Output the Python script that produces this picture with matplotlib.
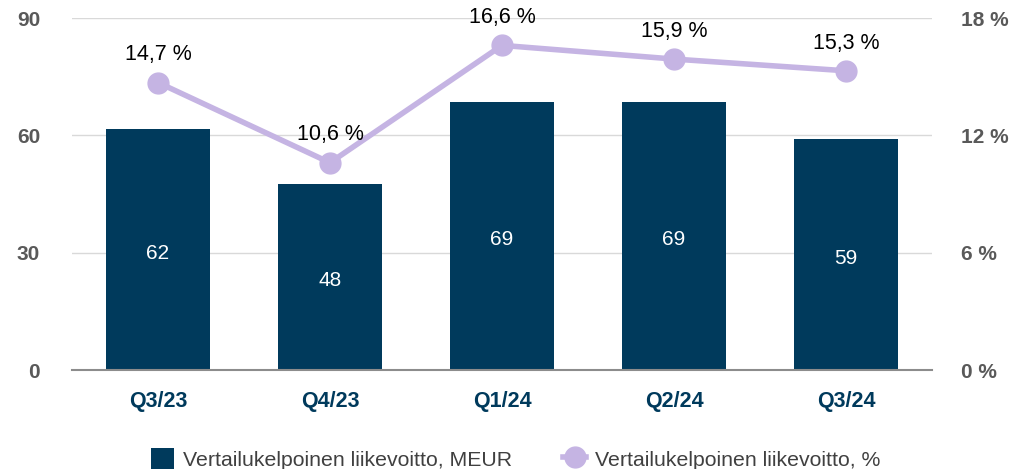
import numpy as np
import matplotlib.pyplot as plt

plt.rcParams['font.family'] = ['Liberation Sans', 'DejaVu Sans']

quarters = ['Q3/23', 'Q4/23', 'Q1/24', 'Q2/24', 'Q3/24']
profit_meur = [61.6, 47.6, 68.6, 68.5, 59.1]
profit_labels = ['62', '48', '69', '69', '59']
margin_pct = [14.7, 10.6, 16.6, 15.9, 15.3]
margin_labels = ['14,7 %', '10,6 %', '16,6 %', '15,9 %', '15,3 %']

bar_color = '#003a5c'
line_color = '#c5b4e3'
tick_grey = '#595959'

fig = plt.figure(figsize=(10.31, 4.69), dpi=100)
ax = fig.add_axes([72 / 1031, 1 - 370 / 469, 860 / 1031, 352 / 469])
ax2 = ax.twinx()

x = np.arange(len(quarters))
bars = ax.bar(x, profit_meur, width=0.6, color=bar_color, zorder=2,
              label='Vertailukelpoinen liikevoitto, MEUR')
for xi, v, lab in zip(x, profit_meur, profit_labels):
    ax.text(xi, v / 2 - 1.0, lab, ha='center', va='center', color='white', fontsize=15)

ax.set_xlim(-0.5, len(quarters) - 0.5)
ax.set_ylim(0, 90)
ax.set_yticks([0, 30, 60, 90])
ax.yaxis.grid(True, color='#d9d9d9', linewidth=1, zorder=0)
ax.set_axisbelow(True)
ax.set_xticks(x)
ax.set_xticklabels(quarters, fontsize=15.5, fontweight='bold', color=bar_color)
for lab in ax.get_yticklabels():
    lab.set_fontweight('bold')
    lab.set_color(tick_grey)
    lab.set_fontsize(15)
ax.tick_params(axis='both', length=0)
ax.tick_params(axis='x', pad=15)
ax.tick_params(axis='y', pad=23)
for s in ['top', 'left', 'right']:
    ax.spines[s].set_visible(False)
ax.spines['bottom'].set_color('#8c8c8c')
ax.spines['bottom'].set_linewidth(1.5)

line, = ax2.plot(x, margin_pct, color=line_color, linewidth=4, marker='o',
                 markersize=15, zorder=3, label='Vertailukelpoinen liikevoitto, %')
for xi, v, lab in zip(x, margin_pct, margin_labels):
    ax2.annotate(lab, (xi, v), xytext=(0, 16), textcoords='offset points',
                 ha='center', va='baseline', fontsize=15.5, color='black')
ax2.set_ylim(0, 18)
ax2.set_yticks([0, 6, 12, 18])
ax2.set_yticklabels(['0 %', '6 %', '12 %', '18 %'], fontsize=15,
                    fontweight='bold', color=tick_grey)
ax2.tick_params(axis='y', length=0, pad=21)
for s in ax2.spines.values():
    s.set_visible(False)

fig.legend([bars, line], [bars.get_label(), line.get_label()],
           loc='lower center', bbox_to_anchor=(0.5, -0.042), ncol=2,
           frameon=False, fontsize=15.3, handlelength=1.1, handleheight=1.1,
           handletextpad=0.4, columnspacing=2.4, labelcolor='#404040')

fig.savefig('out.png', dpi=100)
